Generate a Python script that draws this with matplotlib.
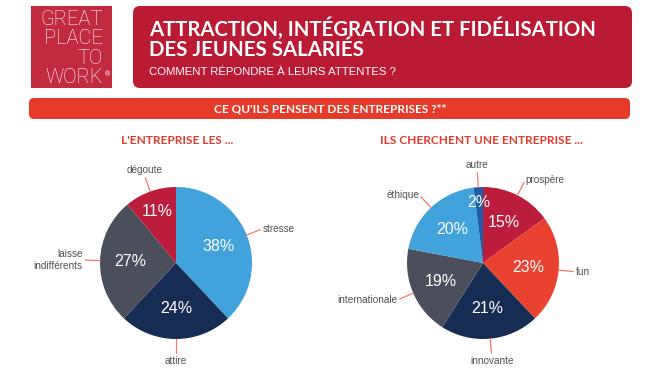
import numpy as np
import matplotlib
matplotlib.use("Agg")
import matplotlib.pyplot as plt
from matplotlib.patches import Rectangle, FancyBboxPatch

# data
left_labels = ["stresse", "attire", "laisse\nindifférents", "dégoute"]
left_values = [38, 24, 27, 11]
left_colors = ["#42a2db", "#162c53", "#4a4f5b", "#bd1d3c"]

right_labels = ["prospère", "fun", "innovante", "internationale", "éthique", "autre"]
right_values = [15, 23, 21, 19, 20, 2]
right_colors = ["#bd1d3c", "#ea4230", "#162c53", "#4a4f5b", "#42a2db", "#1f5ea6"]

title_lines = ["ATTRACTION, INTÉGRATION ET FIDÉLISATION", "DES JEUNES SALARIÉS"]
subtitle = "COMMENT RÉPONDRE À LEURS ATTENTES ?"
band_text = "CE QU'ILS PENSENT DES ENTREPRISES ?**"
left_title = "L'ENTREPRISE LES ..."
right_title = "ILS CHERCHENT UNE ENTREPRISE ..."
logo_lines = ["GREAT", "PLACE", "TO", "WORK"]

W, H = 660, 380
fig = plt.figure(figsize=(6.6, 3.8), dpi=100)
fig.patch.set_facecolor("white")

# background axes in pixel coords
bg = fig.add_axes([0, 0, 1, 1])
bg.set_xlim(0, W)
bg.set_ylim(H, 0)
bg.axis("off")

# logo
bg.add_patch(Rectangle((31, 6), 81, 82, color="#c22a40", lw=0))
for i, t in enumerate(logo_lines):
    bg.text(103, 25 + i * 19.3, t, ha="right", va="baseline", color="white",
            fontsize=14.5, family="Roboto", weight="light")
bg.text(104, 76, "®", ha="left", va="baseline", color="white", fontsize=5, family="DejaVu Sans")

# title box
bg.add_patch(FancyBboxPatch((133, 6), 499, 82, boxstyle="round,pad=0,rounding_size=7",
                            color="#bb1a34", lw=0))
bg.text(149, 36, title_lines[0], ha="left", va="baseline", color="white",
        fontsize=14.7, family="Lato", weight="bold")
bg.text(149, 56, title_lines[1], ha="left", va="baseline", color="white",
        fontsize=14.7, family="Lato", weight="bold")
bg.text(149, 75, subtitle, ha="left", va="baseline", color="white",
        fontsize=8.2, family="Liberation Sans")

# orange band
bg.add_patch(FancyBboxPatch((29, 98), 601, 21, boxstyle="round,pad=0,rounding_size=5",
                            color="#e63a2a", lw=0))
bg.text(330, 108.5, band_text, ha="center", va="center", color="white",
        fontsize=8.5, family="Lato", weight="bold")

bg.text(177, 140, left_title, ha="center", va="center", color="#e63a2a",
        fontsize=8.6, family="Lato", weight="bold")
bg.text(482, 140, right_title, ha="center", va="center", color="#e63a2a",
        fontsize=8.6, family="Lato", weight="bold")


def draw_pie(cx, cy, values, labels, colors):
    r = 76.0
    half = 110.0
    ax = fig.add_axes([(cx - half) / W, 1 - (cy + half) / H, 2 * half / W, 2 * half / H])
    wedges, texts, autotexts = ax.pie(values, colors=colors, startangle=90, counterclock=False,
                                      radius=1, autopct="%d%%", pctdistance=0.6,
                                      wedgeprops=dict(linewidth=0),
                                      textprops=dict(color="white", fontsize=11.5,
                                                     family="Liberation Sans"))
    lim = half / r
    ax.set_xlim(-lim, lim)
    ax.set_ylim(-lim, lim)
    ax.set_aspect("equal")
    ax.axis("off")
    for w, lab, pct, v in zip(wedges, labels, autotexts, values):
        ang = np.deg2rad((w.theta1 + w.theta2) / 2)
        c, s = np.cos(ang), np.sin(ang)
        # small slices get their percentage pushed outward
        if v < 5:
            pct.set_position((0.8 * c, 0.8 * s))
        elif v < 13:
            pct.set_position((0.72 * c, 0.72 * s))
        ax.plot([c, 1.19 * c], [s, 1.19 * s], color="#f07a6a", lw=0.9, clip_on=False)
        if abs(c) < 0.35:
            ha = "center"
        elif c > 0:
            ha = "left"
        else:
            ha = "right"
        if abs(c) < 0.35:
            va = "bottom" if s > 0 else "top"
        else:
            va = "center"
        ax.text(1.23 * c, 1.23 * s, lab, ha=ha, va=va, color="#505050", fontsize=7.2,
                family="Liberation Sans", multialignment="right", linespacing=1.3)


draw_pie(176, 263, left_values, left_labels, left_colors)
draw_pie(483, 263, right_values, right_labels, right_colors)

fig.savefig("out.png", dpi=100)
